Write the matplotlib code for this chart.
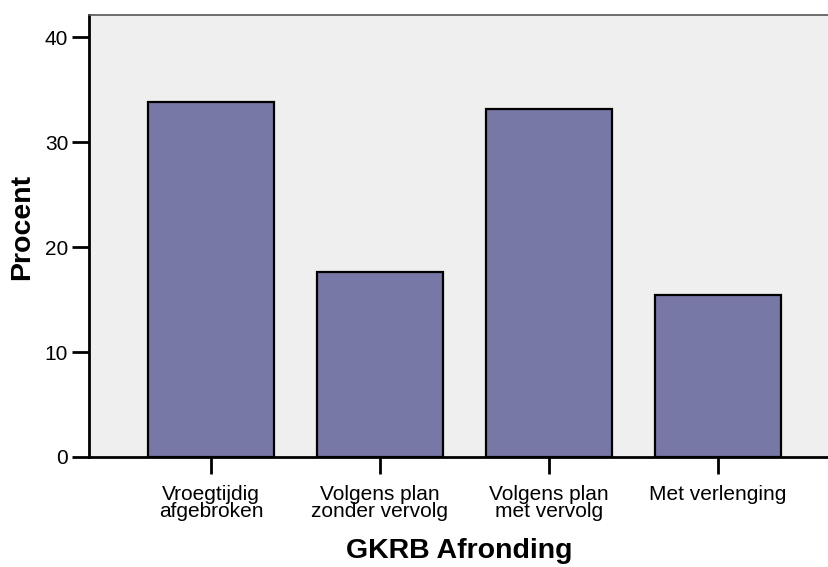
import matplotlib
matplotlib.use("Agg")
import matplotlib.pyplot as plt

categories = ["Vroegtijdig\nafgebroken", "Volgens plan\nzonder vervolg",
              "Volgens plan\nmet vervolg", "Met verlenging"]
percent = [33.8, 17.65, 33.1, 15.4]
yticks = [0, 10, 20, 30, 40]

plt.rcParams['font.family'] = ['Liberation Sans', 'DejaVu Sans']

W, H = 829, 567
fig = plt.figure(figsize=(W / 100, H / 100), dpi=100)
ax = fig.add_axes([89 / W, (H - 457) / H, (829 - 89) / W, (457 - 15) / H])
ax.set_facecolor('#EFEFEF')

x = list(range(len(categories)))
ax.bar(x, percent, width=0.75, color='#7878A6', edgecolor='black', linewidth=1.6, zorder=2)

ax.set_xlim(-0.722, 3.657)
ax.set_ylim(0, 42.1)
ax.set_yticks(yticks)
ax.set_yticklabels([str(v) for v in yticks], fontsize=15)
ax.set_xticks(x)
ax.set_xticklabels(categories, fontsize=15, linespacing=0.88)

ax.tick_params(axis='both', length=12, width=2, color='black')
ax.tick_params(axis='y', pad=3)
ax.tick_params(axis='x', pad=8)

for s in ['left', 'bottom']:
    ax.spines[s].set_linewidth(2)
    ax.spines[s].set_color('black')
ax.spines['top'].set_color('#555555')
ax.spines['top'].set_linewidth(1.2)
ax.spines['right'].set_visible(False)

ax.set_ylabel('Procent', fontsize=20.5, fontweight='bold', va='center')
ax.yaxis.set_label_coords((22 - 89) / 740, (457 - 227) / 442)
ax.set_xlabel('GKRB Afronding', fontsize=20.5, fontweight='bold', labelpad=12)

fig.savefig('out.png', dpi=100)
